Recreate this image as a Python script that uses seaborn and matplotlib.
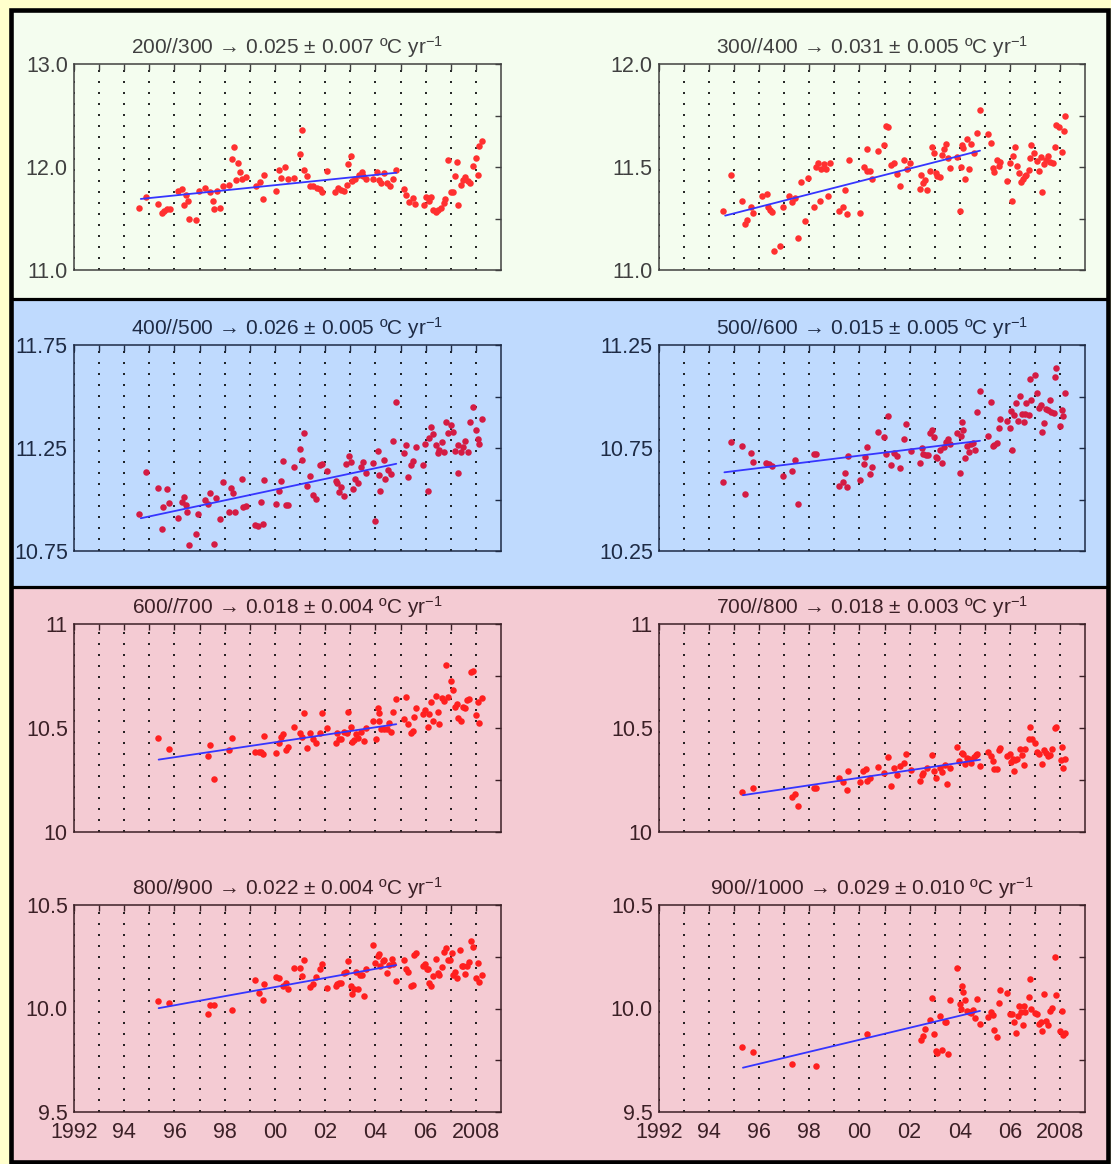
import numpy as np
import pandas as pd
import matplotlib
matplotlib.use("Agg")
import matplotlib.pyplot as plt
import seaborn as sns
from matplotlib.patches import Rectangle
from matplotlib.lines import Line2D

# ---------------------------------------------------------------------------
# Layer-mean temperature series (decimal year, degC)
# ---------------------------------------------------------------------------
years_200_300 = [
    1994.59, 1994.87, 1995.36, 1995.49, 1995.60, 1995.70, 1995.81, 1996.13, 1996.30, 1996.38,
    1996.44, 1996.52, 1996.59, 1996.84, 1996.98, 1997.21, 1997.41, 1997.52, 1997.58, 1997.69,
    1997.80, 1997.95, 1998.19, 1998.29, 1998.36, 1998.43, 1998.52, 1998.60, 1998.69, 1998.83,
    1999.23, 1999.40, 1999.54, 1999.57, 2000.04, 2000.18, 2000.25, 2000.42, 2000.51, 2000.77,
    2000.99, 2001.07, 2001.15, 2001.28, 2001.39, 2001.53, 2001.67, 2001.79, 2001.89, 2002.07,
    2002.41, 2002.53, 2002.64, 2002.74, 2002.88, 2002.92, 2003.01, 2003.07, 2003.17, 2003.35,
    2003.45, 2003.52, 2003.62, 2003.92, 2004.06, 2004.13, 2004.23, 2004.35, 2004.45, 2004.59,
    2004.70, 2004.80, 2005.13, 2005.23, 2005.34, 2005.51, 2005.58, 2005.94, 2006.03, 2006.13,
    2006.23, 2006.30, 2006.40, 2006.51, 2006.61, 2006.72, 2006.79, 2006.89, 2007.00, 2007.10,
    2007.15, 2007.26, 2007.29, 2007.39, 2007.48, 2007.57, 2007.67, 2007.78, 2007.88, 2008.00,
    2008.08, 2008.14, 2008.24]
temp_200_300 = [
    11.60, 11.71, 11.64, 11.55, 11.57, 11.59, 11.59, 11.77, 11.79, 11.63,
    11.73, 11.67, 11.50, 11.49, 11.77, 11.80, 11.76, 11.67, 11.59, 11.77,
    11.60, 11.82, 11.83, 12.08, 12.19, 11.87, 12.04, 11.95, 11.88, 11.90,
    11.82, 11.85, 11.69, 11.92, 11.77, 11.97, 11.89, 12.00, 11.88, 11.89,
    12.13, 12.36, 11.97, 11.91, 11.82, 11.82, 11.80, 11.79, 11.76, 11.96,
    11.76, 11.80, 11.78, 11.77, 11.83, 12.03, 12.11, 11.86, 11.88, 11.92,
    11.95, 11.91, 11.88, 11.88, 11.95, 11.87, 11.84, 11.94, 11.84, 11.82,
    11.88, 11.97, 11.79, 11.73, 11.66, 11.70, 11.64, 11.63, 11.71, 11.67,
    11.71, 11.58, 11.56, 11.58, 11.60, 11.65, 11.69, 12.07, 11.76, 11.76,
    11.91, 12.05, 11.63, 11.83, 11.87, 11.90, 11.86, 11.84, 12.01, 12.09,
    11.92, 12.20, 12.25]

years_300_400 = [
    1994.56, 1994.86, 1995.33, 1995.45, 1995.52, 1995.66, 1995.77, 1996.10, 1996.29, 1996.34,
    1996.42, 1996.49, 1996.58, 1996.82, 1996.94, 1997.18, 1997.32, 1997.41, 1997.55, 1997.66,
    1997.81, 1997.93, 1998.17, 1998.26, 1998.33, 1998.41, 1998.48, 1998.58, 1998.68, 1998.74,
    1998.84, 1999.19, 1999.33, 1999.42, 1999.51, 1999.57, 2000.04, 2000.18, 2000.29, 2000.32,
    2000.43, 2000.50, 2000.74, 2000.97, 2001.04, 2001.14, 2001.25, 2001.37, 2001.51, 2001.63,
    2001.79, 2001.89, 2002.03, 2002.41, 2002.45, 2002.55, 2002.62, 2002.69, 2002.83, 2002.90,
    2002.97, 2003.06, 2003.10, 2003.20, 2003.30, 2003.37, 2003.46, 2003.55, 2003.62, 2003.90,
    2004.00, 2004.07, 2004.08, 2004.14, 2004.23, 2004.31, 2004.37, 2004.46, 2004.56, 2004.70,
    2004.82, 2005.13, 2005.23, 2005.31, 2005.38, 2005.48, 2005.56, 2005.61, 2005.89, 2006.00,
    2006.10, 2006.13, 2006.21, 2006.28, 2006.38, 2006.45, 2006.52, 2006.59, 2006.66, 2006.75,
    2006.82, 2006.86, 2006.96, 2007.08, 2007.15, 2007.25, 2007.29, 2007.38, 2007.43, 2007.53,
    2007.62, 2007.72, 2007.79, 2007.86, 2007.96, 2008.07, 2008.16, 2008.21]
temp_300_400 = [
    11.284, 11.459, 11.334, 11.225, 11.243, 11.306, 11.276, 11.357, 11.370, 11.308,
    11.290, 11.280, 11.090, 11.115, 11.308, 11.360, 11.330, 11.350, 11.154, 11.425,
    11.240, 11.447, 11.308, 11.500, 11.520, 11.334, 11.490, 11.514, 11.490, 11.360,
    11.517, 11.284, 11.308, 11.387, 11.270, 11.536, 11.279, 11.500, 11.483, 11.588,
    11.480, 11.444, 11.578, 11.605, 11.700, 11.694, 11.510, 11.520, 11.465, 11.408,
    11.536, 11.490, 11.519, 11.392, 11.459, 11.420, 11.438, 11.386, 11.480, 11.598,
    11.570, 11.473, 11.454, 11.452, 11.560, 11.588, 11.613, 11.545, 11.494, 11.550,
    11.285, 11.500, 11.606, 11.590, 11.442, 11.637, 11.488, 11.610, 11.570, 11.663,
    11.776, 11.660, 11.617, 11.494, 11.478, 11.536, 11.507, 11.523, 11.430, 11.520,
    11.334, 11.553, 11.595, 11.507, 11.470, 11.426, 11.440, 11.454, 11.459, 11.486,
    11.543, 11.608, 11.566, 11.530, 11.483, 11.550, 11.380, 11.514, 11.535, 11.554,
    11.523, 11.520, 11.598, 11.703, 11.692, 11.574, 11.676, 11.750]

years_400_500 = [
    1994.59, 1994.87, 1995.36, 1995.49, 1995.53, 1995.69, 1995.79, 1996.13, 1996.30, 1996.38,
    1996.44, 1996.51, 1996.59, 1996.84, 1996.95, 1997.21, 1997.34, 1997.41, 1997.56, 1997.66,
    1997.80, 1997.95, 1998.19, 1998.27, 1998.34, 1998.41, 1998.69, 1998.71, 1998.83, 1999.20,
    1999.33, 1999.44, 1999.51, 1999.57, 2000.04, 2000.18, 2000.25, 2000.34, 2000.44, 2000.53,
    2000.76, 2000.99, 2001.06, 2001.15, 2001.26, 2001.39, 2001.53, 2001.64, 2001.79, 2001.89,
    2002.07, 2002.43, 2002.47, 2002.54, 2002.63, 2002.73, 2002.84, 2002.93, 2003.01, 2003.10,
    2003.20, 2003.31, 2003.41, 2003.49, 2003.64, 2003.92, 2004.00, 2004.09, 2004.13, 2004.20,
    2004.33, 2004.38, 2004.52, 2004.63, 2004.72, 2004.80, 2005.13, 2005.23, 2005.31, 2005.40,
    2005.51, 2005.62, 2005.91, 2005.99, 2006.08, 2006.15, 2006.22, 2006.30, 2006.40, 2006.48,
    2006.54, 2006.65, 2006.75, 2006.82, 2006.88, 2007.00, 2007.10, 2007.16, 2007.29, 2007.30,
    2007.39, 2007.48, 2007.57, 2007.70, 2007.78, 2007.88, 2008.00, 2008.07, 2008.14, 2008.24]
temp_400_500 = [
    10.931, 11.134, 11.057, 10.855, 10.962, 11.049, 10.981, 10.912, 10.986, 11.012,
    10.973, 10.941, 10.779, 10.834, 10.930, 11.000, 10.977, 11.030, 10.782, 11.009,
    10.904, 11.083, 10.939, 11.057, 11.032, 10.941, 11.101, 10.965, 10.970, 10.876,
    10.873, 10.988, 10.881, 11.093, 10.978, 11.040, 11.090, 11.189, 10.973, 10.973,
    11.156, 11.244, 11.193, 11.324, 11.064, 11.112, 11.022, 11.004, 11.169, 11.172,
    11.138, 11.091, 11.082, 11.038, 11.059, 11.017, 11.172, 11.211, 11.180, 11.053,
    11.098, 11.082, 11.158, 11.184, 11.127, 11.176, 10.897, 11.237, 11.121, 11.041,
    11.192, 11.101, 11.143, 11.122, 11.282, 11.473, 11.226, 11.265, 11.108, 11.166,
    11.189, 11.253, 11.169, 11.269, 11.041, 11.300, 11.354, 11.316, 11.265, 11.226,
    11.239, 11.279, 11.229, 11.376, 11.324, 11.362, 11.328, 11.237, 11.127, 11.265,
    11.230, 11.256, 11.282, 11.230, 11.378, 11.447, 11.339, 11.294, 11.271, 11.391]

years_500_600 = [
    1994.56, 1994.86, 1995.33, 1995.45, 1995.66, 1995.77, 1996.28, 1996.37, 1996.49, 1996.94,
    1997.32, 1997.41, 1997.55, 1998.17, 1998.27, 1999.19, 1999.33, 1999.42, 1999.51, 1999.56,
    2000.03, 2000.18, 2000.24, 2000.31, 2000.42, 2000.50, 2000.74, 2000.97, 2001.04, 2001.14,
    2001.25, 2001.39, 2001.51, 2001.63, 2001.79, 2001.86, 2002.04, 2002.41, 2002.48, 2002.55,
    2002.64, 2002.72, 2002.83, 2002.90, 2002.97, 2003.06, 2003.10, 2003.21, 2003.30, 2003.37,
    2003.46, 2003.55, 2003.60, 2003.90, 2004.00, 2004.04, 2004.08, 2004.14, 2004.21, 2004.29,
    2004.37, 2004.46, 2004.53, 2004.61, 2004.70, 2004.82, 2005.13, 2005.23, 2005.31, 2005.38,
    2005.48, 2005.56, 2005.61, 2005.89, 2006.00, 2006.06, 2006.10, 2006.18, 2006.24, 2006.31,
    2006.41, 2006.50, 2006.55, 2006.59, 2006.66, 2006.75, 2006.82, 2006.86, 2007.01, 2007.08,
    2007.15, 2007.25, 2007.29, 2007.38, 2007.44, 2007.53, 2007.62, 2007.64, 2007.75, 2007.81,
    2007.86, 2008.02, 2008.09, 2008.14, 2008.21]
temp_500_600 = [
    10.583, 10.778, 10.761, 10.527, 10.727, 10.682, 10.676, 10.672, 10.661, 10.616,
    10.638, 10.690, 10.480, 10.722, 10.722, 10.567, 10.583, 10.627, 10.561, 10.713,
    10.593, 10.671, 10.706, 10.755, 10.624, 10.658, 10.829, 10.803, 10.722, 10.904,
    10.669, 10.726, 10.713, 10.655, 10.795, 10.868, 10.735, 10.677, 10.750, 10.719,
    10.714, 10.716, 10.824, 10.839, 10.803, 10.708, 10.703, 10.739, 10.677, 10.753,
    10.778, 10.792, 10.771, 10.824, 10.630, 10.807, 10.876, 10.836, 10.703, 10.760,
    10.729, 10.768, 10.776, 10.740, 10.925, 11.025, 10.810, 10.972, 10.760, 10.766,
    10.776, 10.849, 10.892, 10.881, 10.849, 10.928, 10.739, 10.910, 10.968, 10.883,
    11.002, 10.913, 10.876, 10.917, 10.967, 10.909, 11.085, 10.981, 11.103, 11.015,
    10.943, 10.957, 10.828, 10.871, 10.941, 10.933, 10.981, 10.923, 10.918, 11.095,
    11.138, 10.855, 10.934, 10.905, 11.015]

years_600_700 = [
    1995.36, 1995.79, 1997.35, 1997.42, 1997.56, 1998.19, 1998.29, 1999.20, 1999.35, 1999.44,
    1999.54, 1999.57, 2000.04, 2000.18, 2000.25, 2000.34, 2000.44, 2000.51, 2000.77, 2000.99,
    2001.07, 2001.15, 2001.26, 2001.40, 2001.53, 2001.64, 2001.79, 2001.89, 2002.07, 2002.43,
    2002.47, 2002.54, 2002.63, 2002.74, 2002.88, 2002.92, 2003.01, 2003.07, 2003.13, 2003.21,
    2003.31, 2003.41, 2003.54, 2003.62, 2003.92, 2004.02, 2004.09, 2004.13, 2004.16, 2004.23,
    2004.35, 2004.45, 2004.55, 2004.63, 2004.72, 2004.80, 2005.13, 2005.23, 2005.31, 2005.40,
    2005.51, 2005.55, 2005.62, 2005.91, 2005.99, 2006.08, 2006.15, 2006.22, 2006.30, 2006.40,
    2006.48, 2006.54, 2006.65, 2006.75, 2006.82, 2006.88, 2007.00, 2007.10, 2007.16, 2007.26,
    2007.29, 2007.39, 2007.48, 2007.57, 2007.64, 2007.73, 2007.82, 2007.90, 2008.00, 2008.10,
    2008.14, 2008.24]
temp_600_700 = [
    10.454, 10.400, 10.366, 10.419, 10.254, 10.393, 10.454, 10.385, 10.387, 10.384,
    10.374, 10.461, 10.379, 10.430, 10.456, 10.469, 10.393, 10.409, 10.507, 10.474,
    10.459, 10.570, 10.403, 10.474, 10.446, 10.430, 10.474, 10.573, 10.502, 10.429,
    10.478, 10.445, 10.448, 10.480, 10.477, 10.578, 10.504, 10.433, 10.441, 10.469,
    10.453, 10.482, 10.438, 10.498, 10.533, 10.445, 10.597, 10.533, 10.570, 10.493,
    10.494, 10.493, 10.525, 10.483, 10.579, 10.640, 10.541, 10.650, 10.518, 10.474,
    10.486, 10.552, 10.594, 10.568, 10.586, 10.504, 10.567, 10.623, 10.535, 10.653,
    10.578, 10.520, 10.644, 10.631, 10.804, 10.650, 10.726, 10.682, 10.602, 10.615,
    10.547, 10.536, 10.599, 10.595, 10.637, 10.639, 10.770, 10.774, 10.563, 10.626,
    10.523, 10.642]

years_700_800 = [
    1995.33, 1995.77, 1997.32, 1997.41, 1997.55, 1998.17, 1998.27, 1999.19, 1999.33, 1999.51,
    1999.56, 2000.03, 2000.15, 2000.25, 2000.31, 2000.42, 2000.74, 2000.97, 2001.14, 2001.25,
    2001.39, 2001.51, 2001.63, 2001.79, 2001.86, 2002.04, 2002.41, 2002.48, 2002.55, 2002.69,
    2002.90, 2002.97, 2003.06, 2003.20, 2003.30, 2003.40, 2003.51, 2003.60, 2003.90, 2003.97,
    2004.08, 2004.14, 2004.23, 2004.31, 2004.37, 2004.46, 2004.56, 2004.64, 2004.70, 2004.82,
    2005.13, 2005.23, 2005.31, 2005.38, 2005.48, 2005.56, 2005.61, 2005.89, 2006.00, 2006.06,
    2006.13, 2006.16, 2006.21, 2006.28, 2006.41, 2006.50, 2006.55, 2006.62, 2006.75, 2006.82,
    2006.90, 2007.01, 2007.10, 2007.18, 2007.29, 2007.38, 2007.44, 2007.54, 2007.62, 2007.69,
    2007.79, 2007.86, 2008.03, 2008.09, 2008.14, 2008.21]
temp_700_800 = [
    10.194, 10.213, 10.167, 10.183, 10.125, 10.210, 10.213, 10.260, 10.238, 10.201,
    10.294, 10.242, 10.291, 10.305, 10.247, 10.262, 10.313, 10.284, 10.360, 10.222,
    10.307, 10.273, 10.318, 10.331, 10.376, 10.299, 10.247, 10.274, 10.284, 10.308,
    10.371, 10.292, 10.260, 10.310, 10.289, 10.321, 10.230, 10.308, 10.409, 10.342,
    10.382, 10.376, 10.327, 10.356, 10.351, 10.332, 10.361, 10.369, 10.377, 10.315,
    10.384, 10.366, 10.342, 10.305, 10.302, 10.393, 10.404, 10.363, 10.377, 10.338,
    10.350, 10.291, 10.345, 10.350, 10.398, 10.369, 10.324, 10.401, 10.445, 10.504,
    10.446, 10.430, 10.384, 10.376, 10.327, 10.396, 10.382, 10.363, 10.372, 10.401,
    10.499, 10.504, 10.344, 10.408, 10.307, 10.353]

years_800_900 = [
    1995.36, 1995.79, 1997.35, 1997.42, 1997.56, 1998.29, 1999.20, 1999.35, 1999.51, 1999.57,
    2000.04, 2000.18, 2000.32, 2000.44, 2000.51, 2000.77, 2000.99, 2001.07, 2001.15, 2001.40,
    2001.53, 2001.64, 2001.79, 2001.89, 2002.07, 2002.43, 2002.48, 2002.54, 2002.63, 2002.73,
    2002.84, 2002.92, 2003.01, 2003.07, 2003.13, 2003.21, 2003.31, 2003.38, 2003.48, 2003.55,
    2003.62, 2003.92, 2004.00, 2004.09, 2004.15, 2004.20, 2004.30, 2004.35, 2004.45, 2004.55,
    2004.66, 2004.72, 2004.80, 2005.13, 2005.23, 2005.31, 2005.40, 2005.51, 2005.55, 2005.62,
    2005.91, 2005.99, 2006.05, 2006.10, 2006.15, 2006.22, 2006.30, 2006.40, 2006.48, 2006.55,
    2006.65, 2006.75, 2006.82, 2006.88, 2006.96, 2007.04, 2007.10, 2007.16, 2007.26, 2007.36,
    2007.44, 2007.50, 2007.57, 2007.64, 2007.72, 2007.79, 2007.88, 2008.00, 2008.10, 2008.14,
    2008.24]
temp_800_900 = [
    10.037, 10.026, 9.974, 10.018, 10.018, 9.994, 10.138, 10.074, 10.043, 10.119,
    10.151, 10.148, 10.109, 10.125, 10.096, 10.195, 10.198, 10.158, 10.236, 10.106,
    10.116, 10.153, 10.191, 10.217, 10.100, 10.108, 10.117, 10.122, 10.125, 10.170,
    10.178, 10.230, 10.108, 10.069, 10.095, 10.175, 10.092, 10.161, 10.161, 10.059,
    10.191, 10.305, 10.219, 10.256, 10.262, 10.206, 10.228, 10.235, 10.170, 10.212,
    10.240, 10.215, 10.135, 10.235, 10.190, 10.175, 10.108, 10.114, 10.259, 10.268,
    10.204, 10.217, 10.191, 10.190, 10.124, 10.109, 10.156, 10.238, 10.172, 10.161,
    10.201, 10.272, 10.293, 10.235, 10.235, 10.268, 10.161, 10.177, 10.148, 10.281,
    10.206, 10.206, 10.167, 10.206, 10.223, 10.328, 10.299, 10.148, 10.222, 10.129,
    10.161]

years_900_1000 = [
    1995.33, 1995.77, 1997.32, 1998.26, 2000.29, 2002.45, 2002.52, 2002.62, 2002.83, 2002.90,
    2002.97, 2003.06, 2003.10, 2003.21, 2003.30, 2003.40, 2003.47, 2003.54, 2003.61, 2003.90,
    2004.00, 2004.04, 2004.08, 2004.14, 2004.21, 2004.29, 2004.37, 2004.46, 2004.53, 2004.61,
    2004.70, 2004.82, 2005.13, 2005.23, 2005.31, 2005.38, 2005.48, 2005.56, 2005.61, 2005.89,
    2006.00, 2006.10, 2006.16, 2006.24, 2006.31, 2006.38, 2006.45, 2006.52, 2006.55, 2006.62,
    2006.75, 2006.82, 2006.86, 2007.01, 2007.10, 2007.15, 2007.25, 2007.29, 2007.38, 2007.44,
    2007.54, 2007.62, 2007.69, 2007.79, 2007.86, 2007.99, 2008.09, 2008.14, 2008.21]
temp_900_1000 = [
    9.812, 9.788, 9.733, 9.720, 9.878, 9.846, 9.865, 9.902, 9.944, 10.053,
    9.878, 9.793, 9.785, 9.963, 9.801, 9.937, 9.934, 9.780, 10.043, 10.195,
    10.023, 9.998, 10.109, 10.080, 10.043, 9.986, 9.982, 9.977, 9.994, 9.955,
    10.047, 9.924, 9.958, 9.982, 9.968, 9.897, 9.860, 10.027, 10.087, 10.077,
    9.973, 9.973, 9.934, 9.883, 9.963, 10.010, 9.981, 9.918, 10.010, 9.984,
    10.056, 10.141, 10.000, 9.977, 9.973, 9.924, 9.937, 9.892, 10.068, 9.939,
    9.918, 9.990, 10.002, 10.248, 10.064, 9.889, 9.989, 9.871, 9.881]

# Layer names and linear trends (degC per year) with uncertainty
layers = ["200//300", "300//400", "400//500", "500//600",
          "600//700", "700//800", "800//900", "900//1000"]
trend_slope = [0.025, 0.031, 0.026, 0.015, 0.018, 0.018, 0.022, 0.029]
trend_error = [0.007, 0.005, 0.005, 0.005, 0.004, 0.003, 0.004, 0.010]
# fit period and fitted value at its start
trend_start = [1994.66, 1994.64, 1994.66, 1994.61, 1995.37, 1995.35, 1995.37, 1995.35]
trend_end = [2004.83, 2004.81, 2004.83, 2004.81, 2004.83, 2004.81, 2004.83, 2004.81]
trend_start_value = [11.69, 11.264, 10.909, 10.632, 10.348, 10.177, 10.0016, 9.714]

# y-axis ranges and the three labelled ticks of each panel
y_ranges = [(11.0, 13.0), (11.0, 12.0), (10.75, 11.75), (10.25, 11.25),
            (10.0, 11.0), (10.0, 11.0), (9.5, 10.5), (9.5, 10.5)]
y_labels = [["11.0", "12.0", "13.0"], ["11.0", "11.5", "12.0"],
            ["10.75", "11.25", "11.75"], ["10.25", "10.75", "11.25"],
            ["10", "10.5", "11"], ["10", "10.5", "11"],
            ["9.5", "10.0", "10.5"], ["9.5", "10.0", "10.5"]]
year_labels = ["1992", "94", "96", "98", "00", "02", "04", "06", "2008"]

series_years = [years_200_300, years_300_400, years_400_500, years_500_600,
                years_600_700, years_700_800, years_800_900, years_900_1000]
series_temp = [temp_200_300, temp_300_400, temp_400_500, temp_500_600,
               temp_600_700, temp_700_800, temp_800_900, temp_900_1000]

# ---------------------------------------------------------------------------
# Styling
# ---------------------------------------------------------------------------
sns.set_style("white")
plt.rcParams["font.family"] = ["Liberation Sans", "DejaVu Sans"]
plt.rcParams["mathtext.fontset"] = "custom"
plt.rcParams["mathtext.rm"] = "Liberation Sans"
plt.rcParams["mathtext.it"] = "Liberation Sans:italic"
plt.rcParams["mathtext.bf"] = "Liberation Sans:bold"

W, H = 1111, 1164
fig = plt.figure(figsize=(W / 100, H / 100), dpi=100)
fig.patch.set_facecolor("#FFFFCC")


def fig_box(x0, y0, x1, y1):
    """Pixel box (top-left origin) -> figure-fraction [left, bottom, w, h]."""
    return [x0 / W, 1 - y1 / H, (x1 - x0) / W, (y1 - y0) / H]


# background bands: (top, bottom, fill, dot colour, ink colour)
bands = [
    (9.5, 298.5, "#F4FDEF", "#FF3030", "#404040"),
    (298.5, 587.0, "#BFDAFE", "#D41B43", "#1E2B45"),
    (587.0, 1161.5, "#F4CBD3", "#FF1F1F", "#3B2026"),
]
frame_left, frame_right = 10.7, 1107.5
for top, bottom, fill, _, _ in bands:
    fig.add_artist(Rectangle((frame_left / W, 1 - bottom / H),
                             (frame_right - frame_left) / W, (bottom - top) / H,
                             transform=fig.transFigure, facecolor=fill,
                             edgecolor="none", zorder=0))
for yline in (298.5, 587.0):
    fig.add_artist(Line2D([frame_left / W, frame_right / W], [1 - yline / H] * 2,
                          transform=fig.transFigure, color="black", lw=2.3, zorder=1))
fig.add_artist(Rectangle((frame_left / W, 1 - 1161.5 / H),
                         (frame_right - frame_left) / W, (1161.5 - 9.5) / H,
                         transform=fig.transFigure, facecolor="none",
                         edgecolor="black", lw=3.3, zorder=1))

cols = [(74, 501), (659, 1085)]
rows = [(64, 270), (345, 551), (624, 832), (905, 1112)]
row_band = [0, 1, 2, 2]

for i in range(8):
    r, c = divmod(i, 2)
    _, _, _, dot_color, ink = bands[row_band[r]]
    ax = fig.add_axes(fig_box(cols[c][0], rows[r][0], cols[c][1], rows[r][1]))
    ax.set_facecolor("none")

    df = pd.DataFrame({"year": series_years[i], "temp": series_temp[i]})
    sns.scatterplot(data=df, x="year", y="temp", ax=ax, color=dot_color,
                    s=22, linewidth=0, zorder=3, legend=False)

    tx = np.array([trend_start[i], trend_end[i]])
    ty = trend_start_value[i] + trend_slope[i] * (tx - trend_start[i])
    sns.lineplot(x=tx, y=ty, ax=ax, color="#3535FF", lw=1.3, zorder=4)

    lo, hi = y_ranges[i]
    ax.set_xlim(1992, 2009)
    ax.set_ylim(lo, hi)
    ax.set_yticks(np.linspace(lo, hi, 5))
    ylab = y_labels[i]
    ax.set_yticklabels([ylab[0], "", ylab[1], "", ylab[2]])
    ax.set_xticks(np.arange(1992, 2009))
    if r == 3:
        labs = []
        k = 0
        for yr in range(1992, 2009):
            if yr % 2 == 0:
                labs.append(year_labels[k])
                k += 1
            else:
                labs.append("")
        ax.set_xticklabels(labs)
    else:
        ax.set_xticklabels([])

    ax.grid(axis="x", color="black", linestyle=(0, (1.2, 5.4)), lw=1.2)
    ax.grid(axis="y", visible=False)
    ax.set_axisbelow(True)
    ax.tick_params(axis="both", direction="in", length=4, width=1.0,
                   top=True, right=True, color=ink, labelcolor=ink, labelsize=15.5)
    ax.tick_params(axis="y", pad=4.5)
    ax.tick_params(axis="x", pad=7.5)
    for sp in ax.spines.values():
        sp.set_color(ink)
        sp.set_linewidth(1.1)
    ax.set_xlabel("")
    ax.set_ylabel("")
    title = (f"{layers[i]}$\\,\\rightarrow\\,${trend_slope[i]:.3f} \u00b1 "
             f"{trend_error[i]:.3f} \u00baC yr$^{{-1}}$")
    ax.set_title(title, fontsize=15, color=ink, pad=7)

fig.savefig("out.png", dpi=100, facecolor=fig.get_facecolor())
